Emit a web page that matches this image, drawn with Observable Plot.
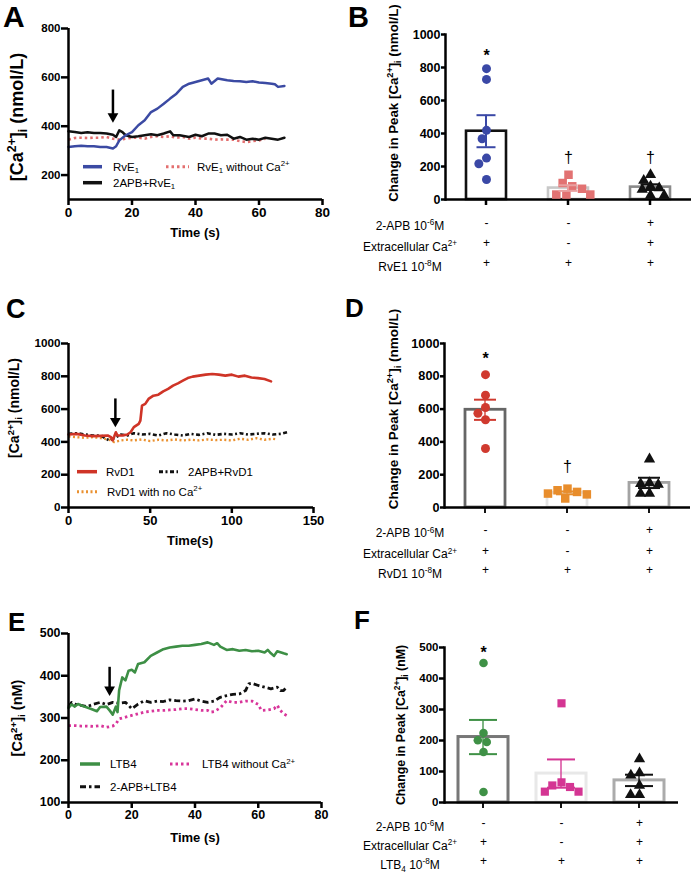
<!DOCTYPE html>
<html><head><meta charset="utf-8">
<script src="https://cdn.jsdelivr.net/npm/d3@7"></script>
<script src="https://cdn.jsdelivr.net/npm/@observablehq/plot@0.6"></script>
<style>
body{margin:0;background:#fff;}
#fig{position:relative;width:692px;height:873px;overflow:hidden;background:#fff;}
</style></head><body><div id="fig"></div>
<script>
// ---------------- DATA ----------------
// Panel A: [time (s), [Ca2+]i (nmol/L)]
const traceA_RvE1 = [[0,315],[2,318],[4,320],[6,318],[8,318],[10,315],[12,315],[14,309],[15,318],[16,342],[18,363],[20,376],[22,404],[24,424],[26,458],[28,472],[30,492],[32,513],[34,533],[36,561],[38,574],[40,581],[42,588],[44,595],[45,574],[47,595],[50,588],[52,585],[54,584],[56,581],[58,584],[60,579],[62,577],[64,574],[65,572],[66,561],[68,565]];
const traceA_APB = [[0,379],[2,376],[4,372],[6,375],[8,372],[10,372],[12,370],[14,365],[15,356],[16,383],[17,376],[18,363],[20,356],[22,359],[24,363],[26,367],[28,363],[30,370],[32,379],[33,363],[35,363],[38,356],[40,365],[42,359],[44,370],[46,370],[48,363],[50,365],[52,349],[54,356],[56,345],[58,349],[60,345],[62,353],[64,349],[66,345],[68,353]];
const traceA_noCa = [[0,345],[2,352],[4,353],[6,352],[8,353],[10,353],[12,356],[14,349],[16,345],[18,349],[20,353],[22,353],[24,349],[26,356],[28,359],[30,356],[32,359],[34,353],[36,356],[38,349],[40,353],[42,349],[44,349],[46,345],[48,346],[50,345],[52,345],[54,339],[56,335],[58,339],[60,342],[62,349]];
const arrowA = {time: 14, from: 548, head: 440};

// Panel C
const traceC_RvD1 = [[0,445],[5,449],[10,439],[15,435],[20,437],[24,439],[26,429],[27,409],[28,433],[29,459],[30,439],[33,439],[36,445],[38,459],[40,490],[43,510],[44,530],[45,621],[47,632],[49,662],[52,682],[55,688],[58,708],[61,723],[64,743],[67,757],[70,773],[73,789],[76,798],[80,804],[84,810],[88,814],[92,810],[96,804],[100,810],[104,798],[108,804],[112,793],[116,789],[120,783],[124,769]];
const traceC_APB = [[0,449],[5,453],[10,445],[15,439],[20,439],[23,419],[25,409],[28,423],[32,445],[36,439],[40,453],[45,445],[50,449],[55,439],[60,453],[65,445],[70,439],[75,449],[80,443],[85,453],[90,443],[95,449],[100,445],[105,453],[110,445],[115,449],[120,453],[125,445],[130,449],[134,459]];
const traceC_noCa = [[0,433],[5,429],[10,425],[15,429],[20,423],[25,413],[28,399],[32,409],[36,413],[40,409],[45,415],[50,405],[55,413],[60,409],[65,415],[70,409],[75,413],[80,409],[85,415],[90,411],[95,413],[100,409],[105,419],[110,413],[115,423],[120,413],[125,419],[128,415]];
const arrowC = {time: 28.7, from: 662, head: 527};

// Panel E: [time (s), [Ca2+]i (nM)]
const traceE_LTB4 = [[0,324],[1,332],[2,327],[3,333],[5,327],[7,322],[9,316],[10,326],[12,327],[13,318],[14,308],[15,327],[15.5,314],[16,365],[17,396],[18,389],[19,412],[20,414],[21,408],[22,428],[24,432],[26,447],[28,455],[30,463],[32,467],[34,469],[36,471],[38,471],[40,473],[42,475],[44,479],[46,473],[47,477],[48,469],[50,461],[52,463],[54,459],[56,461],[58,458],[60,459],[62,455],[63,461],[64,453],[65,447],[66,458],[68,453],[69,451]];
const traceE_APB = [[0,326],[1,337],[2,333],[4,330],[6,327],[8,333],[10,337],[12,332],[14,337],[16,335],[18,337],[19,330],[20,322],[22,333],[24,341],[26,337],[28,340],[30,339],[32,343],[34,341],[36,340],[38,341],[40,345],[42,340],[44,337],[46,340],[48,349],[50,353],[52,356],[54,357],[56,365],[57,381],[58,382],[60,377],[62,373],[64,369],[66,373],[67,365],[68,365],[69,373]];
const traceE_noCa = [[0,282],[2,282],[4,281],[6,281],[8,280],[10,282],[12,278],[14,281],[15,286],[16,298],[18,302],[20,306],[22,310],[24,314],[26,316],[28,318],[30,318],[32,319],[34,320],[36,322],[38,322],[40,320],[42,318],[44,318],[45,314],[46,315],[48,324],[50,341],[52,337],[54,337],[56,340],[58,340],[60,332],[61,318],[63,319],[65,322],[66,330],[67,318],[68,310],[69,306]];
const arrowE = {time: 13, from: 420, head: 367};

// Panel B: change in peak (nmol/L)
const groupsB = ["RvE1", "RvE1 no Ca", "2-APB+RvE1"];
const peakB_RvE1 = [793, 728, 419, 368, 251, 217, 121];
const peakB_noCa = [150, 100, 80, 65, 30, 30, 30];
const peakB_APB = [150, 115, 80, 70, 60, 25, 25];
const sigB = [{group: "RvE1", mark: "*", y: 868}, {group: "RvE1 no Ca", mark: "†", y: 252}, {group: "2-APB+RvE1", mark: "†", y: 252}];

// Panel D
const groupsD = ["RvD1", "RvD1 no Ca", "2-APB+RvD1"];
const peakD_RvD1 = [810, 685, 610, 575, 535, 360];
const peakD_noCa = [115, 105, 95, 85, 80, 55];
const peakD_APB = [295, 150, 145, 140, 85, 85];
const sigD = [{group: "RvD1", mark: "*", y: 904}, {group: "RvD1 no Ca", mark: "†", y: 247}];

// Panel F: change in peak (nM)
const groupsF = ["LTB4", "LTB4 no Ca", "2-APB+LTB4"];
const peakF_LTB4 = [450, 224, 201, 195, 163, 34];
const peakF_noCa = [320, 65, 55, 50, 35, 35];
const peakF_APB = [140, 95, 88, 55, 25, 25];
const sigF = [{group: "LTB4", mark: "*", y: 483}];

// condition table (+/-)
const signs_APB = ["-", "-", "+"];
const signs_Ca = ["+", "-", "+"];
const signs_agonist = ["+", "+", "+"];

// ---------------- LAYOUT / DRAWING ----------------
const FONT = "Liberation Sans, Arial, Helvetica, sans-serif";
const fig = document.getElementById("fig");
function place(el, left, top){ el.style.position = "absolute"; el.style.left = left + "px"; el.style.top = top + "px"; fig.appendChild(el); }
const baseStyle = {fontFamily: FONT, color: "#000", background: "transparent", overflow: "visible"};

function timePanel(o){
  const marks = [
    Plot.axisX({ticks: o.xTicks, tickFormat: "d", tickSize: 6, tickPadding: 2, strokeWidth: 2.5, fontWeight: "bold", fontSize: o.xFont, label: null}),
    Plot.axisY({ticks: o.yTicks, tickFormat: "d", tickSize: o.yTick, tickPadding: 1, strokeWidth: 2.5, fontWeight: "bold", fontSize: o.yFont, label: null}),
    ...o.series.map(s => Plot.line(s.data, {x: d => d[0], y: d => d[1], stroke: s.color, strokeWidth: s.width, strokeDasharray: s.dash, strokeLinejoin: "round", strokeLinecap: s.dash ? "butt" : "round"})),
    Plot.ruleX([o.arrow], {x: "time", y1: "from", y2: "head", strokeWidth: 2.5}),
    Plot.dot([o.arrow], {x: "time", y: "head", symbol: "triangle", rotate: 180, r: 4, fill: "#000", stroke: "none"}),
    Plot.ruleX([o.xDomain[0]], {strokeWidth: 2.5}),
    Plot.ruleY([o.yDomain[0]], {strokeWidth: 2.5})
  ];
  const svg = Plot.plot({width: o.w, height: o.h, marginTop: o.m[0], marginRight: o.m[1], marginBottom: o.m[2], marginLeft: o.m[3],
    x: {domain: o.xDomain}, y: {domain: o.yDomain}, style: baseStyle, marks});
  place(svg, o.left, o.top);
}

function barPanel(o){
  const pts = o.groups.flatMap((g, i) => o.values[i].map(v => ({group: g, value: v})));
  const stats = o.groups.map((g, i) => {
    const v = o.values[i], m = d3.mean(v), se = d3.deviation(v) / Math.sqrt(v.length);
    return {group: g, mean: m, lo: m - se, hi: m + se, barC: o.barColors[i], errC: o.errColors[i]};
  });
  const fw = (o.w - o.m[1] - o.m[3]) / o.groups.length;   // facet band width
  const fh = o.h - o.m[0] - o.m[2];                          // frame height
  const stemInset = (fw - 2) / 2;
  const tickInset = (fw - 2.5) / 2;
  const tickDepth = -6 * (o.yDomain[1] - o.yDomain[0]) / fh;  // 6px below the baseline, in data units
  const groupTicks = o.groups.map(g => ({group: g, top: 0, bottom: tickDepth}));
  const marks = [
    Plot.barY(stats, {fx: "group", y: "mean", fill: "white", stroke: "barC", strokeWidth: o.barStroke, insetLeft: o.barInset, insetRight: o.barInset}),
    Plot.ruleY([0], {strokeWidth: 2.5}),
    Plot.frame({anchor: "left", facetAnchor: "left", strokeWidth: 2.5}),
    Plot.axisY({ticks: o.yTicks, tickFormat: "d", tickSize: o.yTick, tickPadding: 1, strokeWidth: 2.5, fontWeight: "bold", fontSize: o.yFont, label: null}),
    // category tick marks below the x axis line
    Plot.barY(groupTicks, {fx: "group", y1: "top", y2: "bottom", fill: "#000", insetLeft: tickInset, insetRight: tickInset}),
    ...o.groups.map((g, i) => Plot.dot(pts.filter(d => d.group === g),
      Plot.dodgeX({anchor: "middle", padding: 0.5}, {fx: "group", y: "value", r: o.sizes[i], symbol: o.symbols[i], fill: o.dotColors[i], stroke: "none"}))),
    // error bar stem (SEM), drawn as a thin bar centered in the facet band
    Plot.barY(stats, {fx: "group", y1: "lo", y2: "hi", fill: "errC", insetLeft: stemInset, insetRight: stemInset}),
    Plot.tickY(stats, {fx: "group", y: "lo", stroke: "errC", strokeWidth: 2, insetLeft: o.capInset, insetRight: o.capInset}),
    Plot.tickY(stats, {fx: "group", y: "hi", stroke: "errC", strokeWidth: 2, insetLeft: o.capInset, insetRight: o.capInset}),
    Plot.text(o.sig.filter(d => d.mark === "*"), {fx: "group", y: "y", text: "mark", fontSize: 16, fontWeight: "bold"}),
    Plot.text(o.sig.filter(d => d.mark !== "*"), {fx: "group", y: "y", text: "mark", fontSize: 16}),
    ...o.signRows.map((r, ri) => Plot.text(o.groups.map((g, i) => ({group: g, s: r[i]})), {fx: "group", text: "s", frameAnchor: "bottom", dy: o.rowDy[ri], fontSize: 12}))
  ];
  const svg = Plot.plot({width: o.w, height: o.h, marginTop: o.m[0], marginRight: o.m[1], marginBottom: o.m[2], marginLeft: o.m[3],
    fx: {domain: o.groups, padding: 0, axis: null}, y: {domain: o.yDomain}, color: {type: "identity"}, style: baseStyle, marks});
  place(svg, o.left, o.top);
}

const blueA = "#3b4aa3", salmon = "#e36f6f", redC = "#cf3427", orangeC = "#ea9130", greenE = "#3d8f45", pinkE = "#d8359a";

const serA = [
  {data: traceA_noCa, color: salmon, width: 2.6, dash: "2.5,3"},
  {data: traceA_APB, color: "#111", width: 2.5},
  {data: traceA_RvE1, color: blueA, width: 2.5}
];
const serC = [
  {data: traceC_noCa, color: orangeC, width: 2.4, dash: "2,2.5"},
  {data: traceC_APB, color: "#111", width: 2.6, dash: "4,2.5,2,2.5"},
  {data: traceC_RvD1, color: redC, width: 2.6}
];
const serE = [
  {data: traceE_noCa, color: pinkE, width: 2.8, dash: "2.5,3"},
  {data: traceE_APB, color: "#111", width: 2.8, dash: "6,3,2.5,3"},
  {data: traceE_LTB4, color: greenE, width: 2.6}
];

timePanel({left: 0, top: 0, w: 346, h: 245, m: [28, 24, 46, 68], xDomain: [0, 80], xTicks: [0, 20, 40, 60, 80], yDomain: [100, 800], yTicks: [200, 400, 600, 800], xFont: 13.5, yFont: 11.5, yTick: 7, series: serA, arrow: arrowA});
timePanel({left: 0, top: 280, w: 346, h: 270, m: [63, 33, 43, 68], xDomain: [0, 150], xTicks: [0, 50, 100, 150], yDomain: [0, 1000], yTicks: [0, 200, 400, 600, 800, 1000], xFont: 13, yFont: 11.7, yTick: 7, series: serC, arrow: arrowC});
timePanel({left: 0, top: 560, w: 346, h: 313, m: [73, 25, 71, 68], xDomain: [0, 80], xTicks: [0, 20, 40, 60, 80], yDomain: [100, 500], yTicks: [100, 200, 300, 400, 500], xFont: 12.5, yFont: 12.4, yTick: 7, series: serE, arrow: arrowE});

const signRows = [signs_APB, signs_Ca, signs_agonist];
barPanel({left: 346, top: 0, w: 346, h: 280, m: [34, 1, 81, 99], groups: groupsB, values: [peakB_RvE1, peakB_noCa, peakB_APB],
  symbols: ["circle", "square", "triangle"], sizes: [4.5, 4.8, 4.2], dotColors: ["#3a48a6", "#e27272", "#111"],
  barColors: ["#111", "#c8c8c8", "#8a8a8a"], errColors: ["#3a48a6", "#e9a0a0", "#111"], barStroke: 2.6, barInset: 21, capInset: 31.5,
  yDomain: [0, 1000], yTicks: [0, 200, 400, 600, 800, 1000], yFont: 12.5, yTick: 4, sig: sigB, signRows, rowDy: [27, 47.7, 67.7]});
barPanel({left: 346, top: 280, w: 346, h: 300, m: [63, 1, 73, 97], groups: groupsD, values: [peakD_RvD1, peakD_noCa, peakD_APB],
  symbols: ["circle", "square", "triangle"], sizes: [4.5, 4.8, 4.2], dotColors: ["#d03a2f", "#e88d2c", "#111"],
  barColors: ["#666", "#e5e5e5", "#a3a3a3"], errColors: ["#cf3a2f", "#e88d2c", "#111"], barStroke: 2.8, barInset: 21, capInset: 30,
  yDomain: [0, 1000], yTicks: [0, 200, 400, 600, 800, 1000], yFont: 12.7, yTick: 4, sig: sigD, signRows, rowDy: [26, 47, 66.7]});
barPanel({left: 346, top: 560, w: 346, h: 313, m: [87, 13, 71, 97], groups: groupsF, values: [peakF_LTB4, peakF_noCa, peakF_APB],
  symbols: ["circle", "square", "triangle"], sizes: [4.3, 4.6, 4.2], dotColors: ["#3f9146", "#d43593", "#111"],
  barColors: ["#777", "#e8e8e8", "#ababab"], errColors: ["#3f9146", "#d43593", "#111"], barStroke: 3, barInset: 14, capInset: 25,
  yDomain: [0, 500], yTicks: [0, 100, 200, 300, 400, 500], yFont: 11.5, yTick: 5, sig: sigF, signRows, rowDy: [24.4, 43.4, 62.7]});

// ---------------- TEXT OVERLAY (titles, letters, legends, row labels) ----------------
function rich(s, fs){
  const parts = s.split(/(\^\{[^}]*\}|_\{[^}]*\})/);
  let out = "", shift = 0;
  for (const p of parts){
    if (!p) continue;
    if (p.startsWith("^{")) { const t = -fs * 0.38; out += `<tspan dy="${t - shift}" font-size="${fs * 0.68}">${p.slice(2, -1)}</tspan>`; shift = t; }
    else if (p.startsWith("_{")) { const t = fs * 0.22; out += `<tspan dy="${t - shift}" font-size="${fs * 0.68}">${p.slice(2, -1)}</tspan>`; shift = t; }
    else { out += `<tspan dy="${-shift}">${p}</tspan>`; shift = 0; }
  }
  return out;
}
let ov = `<svg xmlns="http://www.w3.org/2000/svg" width="692" height="873" style="position:absolute;left:0;top:0;overflow:visible" font-family="${FONT}" fill="#000">`;
const letters = [["A", 3, 27, 30], ["B", 348, 27, 29], ["C", 6, 318, 27], ["D", 345, 317, 26], ["E", 8, 631, 26], ["F", 354, 629, 26]];
for (const [t, x, y, fs] of letters) ov += `<text x="${x}" y="${y}" font-size="${fs}" font-weight="bold">${t}</text>`;
const yTitles = [
  ["[Ca^{2+}]_{i} (nmol/L)", 23, 117, 18],
  ["Change in Peak [Ca^{2+}]_{i} (nmol/L)", 398, 103, 13.3],
  ["[Ca^{2+}]_{i} (nmol/L)", 19, 408, 14],
  ["Change in Peak [Ca^{2+}]_{i} (nmol/L)", 398, 409, 13.5],
  ["[Ca^{2+}]_{i} (nM)", 22, 718, 14.5],
  ["Change in Peak [Ca^{2+}]_{i} (nM)", 405, 725, 12.3]
];
for (const [t, x, y, fs] of yTitles) ov += `<text transform="translate(${x},${y}) rotate(-90)" text-anchor="middle" font-size="${fs}" font-weight="bold">${rich(t, fs)}</text>`;
const xTitles = [["Time (s)", 195, 237], ["Time(s)", 190, 545], ["Time (s)", 195, 842]];
for (const [t, x, y] of xTitles) ov += `<text x="${x}" y="${y}" text-anchor="middle" font-size="13" font-weight="bold">${t}</text>`;
// legends
const legends = [
  [serA[2], "RvE_{1}", 83, 102, 166.7, 113], [serA[0], "RvE_{1} without Ca^{2+}", 166, 189, 166.7, 197], [serA[1], "2APB+RvE_{1}", 83, 102, 182.7, 113],
  [serC[2], "RvD1", 77, 97, 471.7, 106], [serC[1], "2APB+RvD1", 159, 178, 471.7, 188], [serC[0], "RvD1 with no Ca^{2+}", 77, 97, 491.7, 107],
  [serE[2], "LTB4", 80, 100, 764, 110], [serE[0], "LTB4 without Ca^{2+}", 170, 190, 764, 202], [serE[1], "2-APB+LTB4", 80, 100, 786.7, 110]
];
for (const [s, t, x0, x1, y, tx] of legends){
  ov += `<line x1="${x0}" x2="${x1}" y1="${y}" y2="${y}" stroke="${s.color}" stroke-width="${s.dash ? 3 : 3.5}" ${s.dash ? `stroke-dasharray="${s.dash}"` : ""}/>`;
  ov += `<text x="${tx}" y="${y + 4}" font-size="11.5">${rich(t, 11.5)}</text>`;
}
// condition row labels
const rowLabels = [
  [["2-APB 10^{-6}M", "Extracellular Ca^{2+}", "RvE1 10^{-8}M"], [226, 246.7, 266.7]],
  [["2-APB 10^{-6}M", "Extracellular Ca^{2+}", "RvD1 10^{-8}M"], [533.3, 554.3, 574]],
  [["2-APB 10^{-6}M", "Extracellular Ca^{2+}", "LTB_{4} 10^{-8}M"], [826.7, 845.7, 865]]
];
for (const [labels, ys] of rowLabels) labels.forEach((t, i) => { ov += `<text x="410" y="${ys[i] + 4}" text-anchor="middle" font-size="12">${rich(t, 12)}</text>`; });
ov += `</svg>`;
fig.insertAdjacentHTML("beforeend", ov);
</script>
</body></html>
